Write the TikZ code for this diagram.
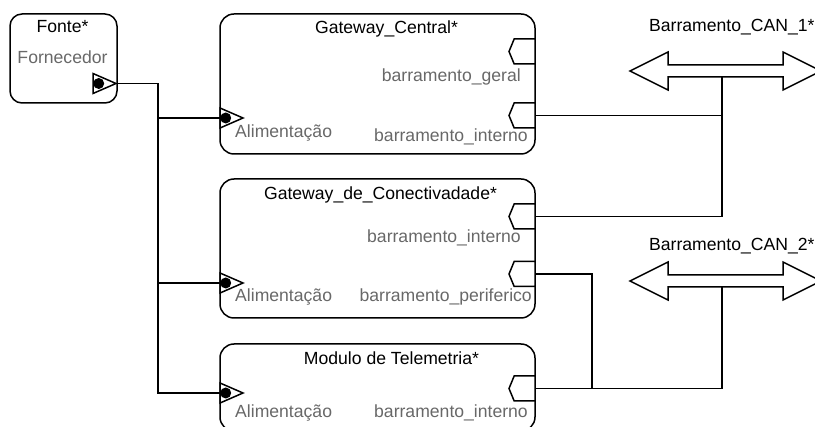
\documentclass[tikz,border=0pt]{standalone}
\usepackage{fontspec}
\setmainfont{Liberation Sans}
\usetikzlibrary{shapes.geometric, shapes.symbols, positioning}

\definecolor{lblgray}{RGB}{104,104,104}

\begin{document}
\begin{tikzpicture} [
    x=1pt, y=-1pt,
    font=\fontsize{17.6}{20}\selectfont,
    block/.style={rectangle, draw, line width=1.5pt, rounded corners=14pt, inner sep=0pt},
    inport/.style={isosceles triangle, isosceles triangle stretches, shape border rotate=0, draw, fill=white, line width=1.5pt, minimum width=20pt, minimum height=23pt, inner sep=0pt, outer sep=0pt},
    outport/.style={signal, signal to=west, signal from=nowhere, signal pointer angle=135, draw, fill=white, line width=1.5pt, minimum width=26pt, minimum height=25pt, inner sep=0pt, outer sep=0pt, anchor=east},
    dot/.style={circle, fill=black, minimum size=11pt, inner sep=0pt},
    title/.style={anchor=base, text=black, inner sep=0pt},
    lbl/.style={text=lblgray, inner sep=0pt},
    bus/.style={draw, line width=1.5pt, fill=white},
    wire/.style={draw, line width=1.5pt}
]
    \useasboundingbox (0,0) rectangle (815,427);
    \clip (0,0) rectangle (815,427);

    % Blocks
    \node[block, rounded corners=12pt, minimum width=107pt, minimum height=89pt] (fonte) at (63.5,58.5) {};
    \node[block, minimum width=315pt, minimum height=140pt] (gc) at (377.5,84) {};
    \node[block, minimum width=315pt, minimum height=139pt] (gdc) at (377.5,248.5) {};
    \node[block, minimum width=315pt, minimum height=87pt] (mt) at (377.5,387.5) {};

    % Titles and port labels
    \node[title] at (62.5,33) {Fonte*};
    \node[lbl, anchor=base] at (62.5,64) {Fornecedor};

    \node[title] at (386.5,34) {Gateway\_Central*};
    \node[lbl, anchor=base east] at (521,82) {barramento\_geral};
    \node[lbl, anchor=base east] at (528,142) {barramento\_interno};
    \node[lbl, anchor=base west] at (235,138) {Alimentação};

    \node[title] at (380.5,200) {Gateway\_de\_Conectivadade*};
    \node[lbl, anchor=base east] at (521,243) {barramento\_interno};
    \node[lbl, anchor=base east] at (532,302) {barramento\_periferico};
    \node[lbl, anchor=base west] at (235,302) {Alimentação};

    \node[title] at (391.5,365) {Modulo de Telemetria*};
    \node[lbl, anchor=base east] at (528,418) {barramento\_interno};
    \node[lbl, anchor=base west] at (235,418) {Alimentação};

    % Power ports
    \node[inport, anchor=apex] (fntpwr) at (116,83.5) {};
    \node[inport, anchor=lower side] (gcpwr) at (220,118) {};
    \node[inport, anchor=lower side] (gdcpwr) at (220,283) {};
    \node[inport, anchor=lower side] (mtpwr) at (220,393) {};
    \node[dot, right=0pt of fntpwr.lower side] (fntdot) {};
    \node[dot, right=0pt of gcpwr.lower side] (gcdot) {};
    \node[dot, right=0pt of gdcpwr.lower side] (gdcdot) {};
    \node[dot, right=0pt of mtpwr.lower side] (mtdot) {};

    % Bus ports
    \node[outport] (gcgeral) at (535,51.5) {};
    \node[outport] (gcint) at (535,115.5) {};
    \node[outport] (gdcint) at (535,216.5) {};
    \node[outport] (gdcper) at (535,274) {};
    \node[outport] (mtint) at (535,388.5) {};

    % CAN buses
    \draw[bus] (630,71) -- ++(38,-19) -- ++(0,13) -- ++(115,0) -- ++(0,-13) -- ++(38,19)
        -- ++(-38,19) -- ++(0,-13) -- ++(-115,0) -- ++(0,13) -- cycle;
    \draw[bus] (630,281) -- ++(38,-19) -- ++(0,13) -- ++(115,0) -- ++(0,-13) -- ++(38,19)
        -- ++(-38,19) -- ++(0,-13) -- ++(-115,0) -- ++(0,13) -- cycle;
    \coordinate (can1tap) at (722,77);
    \coordinate (can2tap) at (722,287);
    \node[title, anchor=base west] at (649,32) {Barramento\_CAN\_1*};
    \node[title, anchor=base west] at (649,251) {Barramento\_CAN\_2*};

    % Power wiring
    \coordinate (trunk) at (158,0);
    \path[wire] (fntpwr.apex) -| (trunk |- mtpwr.lower side) -- (mtpwr.lower side);
    \path[wire] (trunk |- gcpwr.lower side) -- (gcpwr.lower side);
    \path[wire] (trunk |- gdcpwr.lower side) -- (gdcpwr.lower side);

    % Bus wiring
    \coordinate (perjoin) at (592,0);
    \path[wire] (gcint.east) -| (can1tap);
    \path[wire] (gdcint.east) -| (can1tap);
    \path[wire] (mtint.east) -| (can2tap);
    \path[wire] (gdcper.east) -| (perjoin |- mtint.east);

\end{tikzpicture}
\end{document}
